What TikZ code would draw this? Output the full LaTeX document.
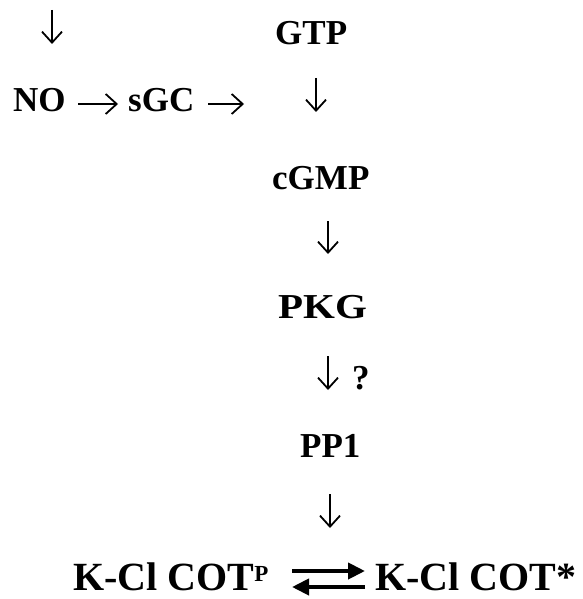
\documentclass[tikz,border=0pt]{standalone}
\usepackage{fontspec}
\setmainfont{Liberation Serif}
\usetikzlibrary{arrows.meta,calc}
\tikzset{
  lbl/.style={inner sep=0pt, anchor=base west, font=\fontsize{35}{38}\selectfont\bfseries},
  biglbl/.style={inner sep=0pt, anchor=base west, text depth=0pt, font=\fontsize{40}{42}\selectfont\bfseries},
  thinarrow/.style={line width=1.8pt, -{Straight Barb[length=11pt,width=20pt,line width=1.8pt]}},
  eqarrow/.style={line width=4pt, -{Triangle[length=17pt,width=16pt]}}
}
\begin{document}
\begin{tikzpicture}[x=1pt,y=1pt]
\useasboundingbox (0,0) rectangle (582,-599);
% texts
\node[lbl] (gtp) at (275,-45) {GTP};
\node[lbl] (no) at (13,-112) {NO};
\node[lbl] (sgc) at (128,-112) {sGC};
\node[lbl] (cgmp) at (272,-189) {cGMP};
\node[lbl] (pkg) at (278,-318) {\scalebox{1.17}[1]{PKG}};
\node[lbl] (q) at (352,-389) {?};
\node[lbl] (pp1) at (300,-457) {PP1};
\node[biglbl] (k1) at (73,-590) {K-Cl COT\raisebox{9pt}{\fontsize{23}{24}\selectfont P}};
\node[biglbl] (k2) at (375,-590) {K-Cl COT*};
% arrow end points
\coordinate (d1s) at (52,-10);  \coordinate (d1e) at (52,-44);
\coordinate (r1s) at (78,-104); \coordinate (r1e) at (118,-104);
\coordinate (r2s) at (208,-104); \coordinate (r2e) at (244,-104);
\coordinate (d2s) at (316,-78); \coordinate (d2e) at (316,-112);
\coordinate (d3s) at (328,-221); \coordinate (d3e) at (328,-254);
\coordinate (d4s) at (328,-356); \coordinate (d4e) at (328,-390);
\coordinate (d5s) at (330,-494); \coordinate (d5e) at (330,-528);
\draw[thinarrow] (d1s) -- (d1e);
\draw[thinarrow] (r1s) -- (r1e);
\draw[thinarrow] (r2s) -- (r2e);
\draw[thinarrow] (d2s) -- (d2e);
\draw[thinarrow] (d3s) -- (d3e);
\draw[thinarrow] (d4s) -- (d4e);
\draw[thinarrow] (d5s) -- (d5e);
% equilibrium
\coordinate (a1s) at (292,-571);
\coordinate (a1e) at (365,-571);
\coordinate (a2s) at (365,-587);
\coordinate (a2e) at (292,-587);
\draw[eqarrow] (a1s) -- (a1e);
\draw[eqarrow] (a2s) -- (a2e);
\end{tikzpicture}
\end{document}
